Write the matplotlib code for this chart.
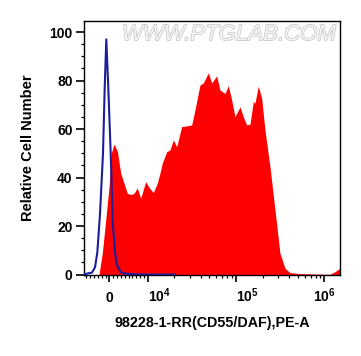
import numpy as np
import matplotlib
matplotlib.use("Agg")
import matplotlib.pyplot as plt
import matplotlib.patheffects as pe

plt.rcParams['font.family'] = ['Liberation Sans', 'DejaVu Sans']
plt.rcParams['font.weight'] = 'bold'
plt.rcParams['mathtext.fontset'] = 'custom'
plt.rcParams['mathtext.rm'] = 'Liberation Sans:bold'
plt.rcParams['mathtext.bf'] = 'Liberation Sans:bold'

# control histogram (blue outline)
ctrl_x = [-6600, -6090, -4525, -3743, -3143, -2439, -1656, -1213, -796, -274,
          352, 873, 1473, 1994, 2959, 4081, 6688, 10617, 20000]
ctrl_y = [0.2, 0.3, 0.8, 3, 9, 25, 50, 77, 97, 77,
          50, 22, 9, 4, 1, 0.4, 0.1, 0, 0]

# stained sample histogram (red fill)
samp_x = [-2700, -1839, -952, -92, 508, 1212, 2073, 2959, 3820, 4680,
          5645, 6427, 7288, 8175, 9478, 10345, 11571, 12845, 13785, 14638,
          16415, 17886, 19498, 21296, 24266, 27655, 31501, 34336, 39110, 42640,
          48580, 53060, 60440, 65900, 75070, 81810, 89400, 97430, 111000, 120970,
          132200, 144100, 157000, 164100, 178900, 195500, 213000, 242700, 276500, 315000,
          358900, 408900, 530700, 820000, 1160000, 1322000, 1506000]
samp_y = [0, 8.8, 22.5, 36, 50, 53.8, 51, 41.8, 37.7, 33.5,
          33, 33.5, 35.7, 31.5, 38.3, 36, 33.8, 37.7, 41.9, 45.9,
          50.7, 51.4, 55.5, 52.7, 61, 61.3, 61.7, 67.9, 78.2, 79,
          83.2, 79, 81.9, 76.1, 74.7, 77.9, 72, 65.1, 69.2, 65.1,
          61.7, 62, 71.3, 70.7, 77.7, 72.7, 59.6, 44.5, 26.7, 8.8,
          2.6, 0.8, 0.4, 0.2, 0.1, 1.2, 2.6]

x_major = [0, 1e4, 1e5, 1e6]
x_major_labels = ['0', r'$10^4$', r'$10^5$', r'$10^6$']
y_major = [0, 20, 40, 60, 80, 100]

T = 1e4
LN10 = np.log(10)


def forward(x):
    x = np.asarray(x, dtype=float)
    return np.where(x >= T, np.log10(np.maximum(x, T)), 4 + (x - T) / (T * LN10))


def inverse(p):
    p = np.asarray(p, dtype=float)
    return np.where(p >= 4, 10 ** np.minimum(p, 12), T * (1 + (p - 4) * LN10))


fig = plt.figure(figsize=(3.61, 3.56), dpi=100)
ax = fig.add_axes([0.2327, 0.2267, 0.709, 0.7152])
ax.set_xscale('function', functions=(forward, inverse))

ax.fill_between(samp_x, samp_y, 0, color='#ff0000', lw=0, zorder=2)
ax.plot(ctrl_x, ctrl_y, color='#1c1c9c', lw=1.5, zorder=3)

ax.set_xlim(-6611, 1.506e6)
ax.set_ylim(-0.3, 104.7)

minor_x = [v for v in range(-6000, 10000, 1000) if v != 0]
minor_x += [k * 10 ** n for n in (4, 5) for k in range(2, 10)]
ax.set_xticks(x_major, x_major_labels)
ax.set_xticks(minor_x, minor=True)
ax.set_yticks(y_major)
ax.set_yticks(np.arange(0, 105, 5), minor=True)

ax.tick_params(axis='both', which='major', width=1.2, labelsize=10)
ax.tick_params(axis='both', which='minor', width=0.9)
ax.tick_params(axis='x', which='major', length=5, pad=14.4)
ax.tick_params(axis='x', which='minor', length=2.3)
ax.tick_params(axis='y', which='major', length=5.8, pad=2.4)
ax.tick_params(axis='y', which='minor', length=2.4)
xlabels = ax.get_xticklabels()
for lbl in xlabels:
    lbl.set_va('baseline')
xlabels[1].set_ha('left')
xlabels[2].set_ha('left')

for s in ax.spines.values():
    s.set_linewidth(1.0)

ax.set_ylabel('Relative Cell Number', fontsize=10.5, fontweight='bold', labelpad=10)
ax.set_xlabel('98228-1-RR(CD55/DAF),PE-A', fontsize=10.3, fontweight='bold', labelpad=8)

ax.text(0.985, 0.945, 'WWW.PTGLAB.COM', transform=ax.transAxes, ha='right', va='center',
        fontsize=16, fontweight='normal', style='italic', color='#f4f4f4',
        path_effects=[pe.withStroke(linewidth=1.0, foreground='#c4c4c4')], zorder=1)

fig.savefig('out.png', dpi=100)
